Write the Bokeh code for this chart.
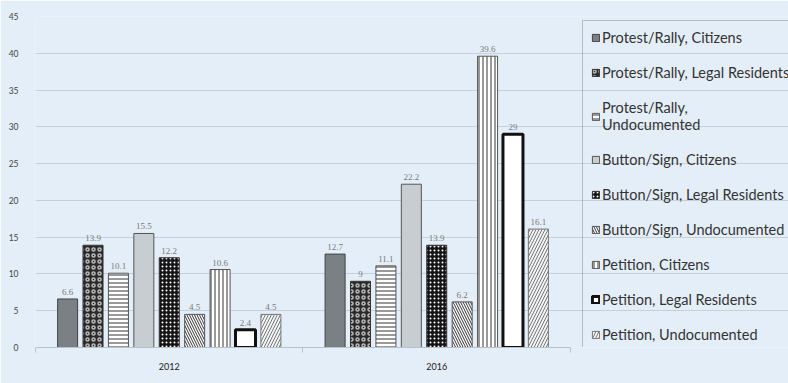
from bokeh.plotting import figure
from bokeh.models import ColumnDataSource, Range1d, Legend, LegendItem, LabelSet, FixedTicker
from bokeh.transform import dodge
from bokeh.embed import file_html
from bokeh.resources import INLINE

years = ["2012", "2016"]
series = [
    "Protest/Rally, Citizens",
    "Protest/Rally, Legal Residents",
    "Protest/Rally,\nUndocumented",
    "Button/Sign, Citizens",
    "Button/Sign, Legal Residents",
    "Button/Sign, Undocumented",
    "Petition, Citizens",
    "Petition, Legal Residents",
    "Petition, Undocumented",
]
values_2012 = [6.6, 13.9, 10.1, 15.5, 12.2, 4.5, 10.6, 2.4, 4.5]
values_2016 = [12.7, 9, 11.1, 22.2, 13.9, 6.2, 39.6, 29, 16.1]
y_ticks = [0, 5, 10, 15, 20, 25, 30, 35, 40, 45]

BG = "#e4eef8"
FONT = "Lato"

styles = [
    dict(fill_color="#7b8085", line_color="#444444", line_width=1),
    dict(fill_color="#2a2a2a", hatch_pattern="ring", hatch_color="#b8b8b8", hatch_scale=6, hatch_weight=1.5, line_color="#333333", line_width=1),
    dict(fill_color="#ffffff", hatch_pattern="horizontal_line", hatch_color="#333333", hatch_scale=4, hatch_weight=1, line_color="#555555", line_width=1),
    dict(fill_color="#c8cdd2", line_color="#555555", line_width=1),
    dict(fill_color="#151515", hatch_pattern="dot", hatch_color="#ffffff", hatch_scale=4, hatch_weight=1, line_color="#333333", line_width=1),
    dict(fill_color="#ffffff", hatch_pattern="left_diagonal_line", hatch_color="#333333", hatch_scale=5, hatch_weight=1, line_color="#555555", line_width=1),
    dict(fill_color="#ffffff", hatch_pattern="vertical_line", hatch_color="#333333", hatch_scale=4, hatch_weight=1, line_color="#555555", line_width=1),
    dict(fill_color="#ffffff", line_color="#111111", line_width=3),
    dict(fill_color="#f2f4f6", hatch_pattern="right_diagonal_line", hatch_color="#777777", hatch_scale=6, hatch_weight=1, line_color="#777777", line_width=1),
]

n_years = len(years)
x_centers = [j + 0.5 for j in range(n_years)]

p = figure(
    width=788, height=383,
    x_range=Range1d(0, 2.815), y_range=Range1d(0, 45),
    output_backend="svg", toolbar_location=None,
    min_border_left=35, min_border_right=0, min_border_top=16, min_border_bottom=36,
    background_fill_color=BG, border_fill_color=BG,
)
p.outline_line_color = None

p.xgrid.grid_line_color = None
p.ygrid.grid_line_color = "#c6d0da"
p.ygrid.grid_line_width = 1
p.ygrid.bounds = (0, n_years)
p.yaxis.ticker = FixedTicker(ticks=y_ticks)
p.yaxis.axis_line_color = None
p.yaxis.major_tick_line_color = None
p.yaxis.minor_tick_line_color = None
p.yaxis.major_label_standoff = 11
p.yaxis.major_label_text_font = FONT
p.yaxis.major_label_text_font_size = "8.5px"
p.yaxis.major_label_text_color = "#444444"

p.xaxis.ticker = FixedTicker(ticks=x_centers, minor_ticks=list(range(n_years + 1)))
p.xaxis.major_label_overrides = {c: y for c, y in zip(x_centers, years)}
p.xaxis.bounds = (0, n_years)
p.xaxis.axis_line_color = "#b8c2cc"
p.xaxis.major_tick_line_color = None
p.xaxis.minor_tick_line_color = "#b8c2cc"
p.xaxis.minor_tick_in = 0
p.xaxis.minor_tick_out = 5
p.xaxis.major_label_standoff = 9
p.xaxis.major_label_text_font = FONT
p.xaxis.major_label_text_font_size = "9px"
p.xaxis.major_label_text_color = "#222222"

n = len(series)
pitch = 0.095
bw = 0.0748
items = []
for i, name in enumerate(series):
    vals = [values_2012[i], values_2016[i]]
    src = ColumnDataSource(dict(xc=x_centers, v=vals, lbl=[f"{v:g}" for v in vals]))
    off = (i - (n - 1) / 2) * pitch
    r = p.vbar(x=dodge("xc", off), top="v", width=bw, source=src, **styles[i])
    p.add_layout(LabelSet(x=dodge("xc", off), y="v", text="lbl", source=src,
                          y_offset=4, text_align="center", text_baseline="bottom",
                          text_font=FONT, text_font_size="9px", text_color="#7a7a7a"))
    items.append(LegendItem(label=name, renderers=[r]))

legend = Legend(items=items, location=(547, -5), glyph_width=9, glyph_height=9,
                label_text_font=FONT, label_text_font_size="14.5px", label_text_color="#333333",
                label_standoff=2, label_height=16, spacing=18, padding=8, margin=0,
                border_line_color="#8a8a8a", border_line_width=1, background_fill_alpha=0)
p.add_layout(legend, "center")

open("out.html", "w").write(file_html(p, INLINE))
